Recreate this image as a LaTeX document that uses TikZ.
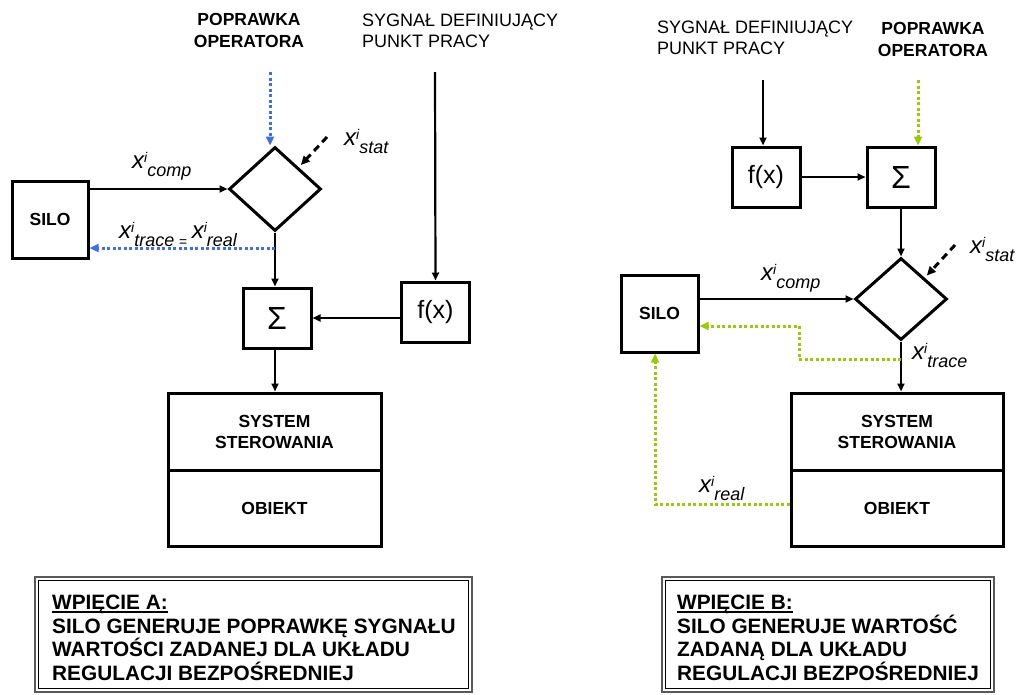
\documentclass[tikz,border=0pt]{standalone}
\usepackage{fontspec}
\setmainfont{Liberation Sans}
\usetikzlibrary{arrows.meta,shapes.geometric,calc}
\definecolor{dotblue}{RGB}{60,110,240}
\definecolor{dotgreen}{RGB}{153,204,0}
\newcommand{\xlab}[2]{{\fontsize{24}{24}\selectfont\itshape x}\raisebox{6pt}{\fontsize{14}{14}\selectfont\itshape #1}\raisebox{-8pt}{\fontsize{18}{18}\selectfont\itshape #2}}
\begin{document}
\begin{tikzpicture}[x=1pt,y=-1pt,
  blk/.style={draw, line width=3pt, inner sep=0pt, font=\fontsize{17.5}{21}\selectfont\bfseries, align=center},
  fbox/.style={blk, minimum width=68pt, minimum height=60pt, font=\fontsize{25}{25}\selectfont},
  sbox/.style={blk, minimum width=68pt, minimum height=60pt, font=\fontsize{32}{32}\selectfont},
  dia/.style={draw, line width=3pt, shape=diamond, inner sep=0pt, minimum width=92pt, minimum height=84pt},
  conn/.style={line width=2.2pt, -{Triangle[length=8pt,width=7pt]}},
  dotb/.style={line width=3pt, dotblue, dash pattern=on 3pt off 2.5pt, -{Triangle[length=9pt,width=8pt]}},
  dotg/.style={line width=3pt, dotgreen, dash pattern=on 3pt off 2.5pt, -{Triangle[length=9pt,width=8pt]}},
  dsh/.style={line width=3pt, dash pattern=on 7pt off 5pt, -{Triangle[length=9pt,width=8pt]}},
  lblb/.style={inner sep=0pt, font=\fontsize{17.5}{22}\selectfont\bfseries},
  lblr/.style={inner sep=0pt, font=\fontsize{18}{21}\selectfont},
  xl/.style={inner sep=0pt, anchor=base west},
  frame/.style={draw=black!65, line width=2.5pt, inner sep=0pt},
  note/.style={inner sep=0pt, anchor=base west, font=\fontsize{20.8}{20.8}\selectfont\bfseries}
]
\useasboundingbox (0,0) rectangle (1020,694);

% ---------------- LEFT (A) ----------------
\node[lblb, anchor=north, align=center] (popAlbl) at (249,13.5) {POPRAWKA\\OPERATORA};
\node[lblr, anchor=north west, align=left] (sygAlbl) at (362,13.3) {SYGNAŁ DEFINIUJĄCY\\PUNKT PRACY};

\node[blk, minimum width=76pt, minimum height=77pt] (silA) at (50,219.5) {SILO};
\node[dia] (diaA) at (275,189) {};
\node[sbox] (sumA) at (277,318) {Σ};
\node[fbox] (fA) at (435.5,312) {f(x)};
\node[blk, minimum width=213pt, minimum height=77pt] (sysA) at (274.5,431.5) {SYSTEM\\STEROWANIA};
\node[blk, minimum width=213pt, minimum height=76pt] (objA) at (274.5,508) {OBIEKT};

\coordinate (popA) at (270,72);
\coordinate (sygA) at (435,72);
\coordinate (statA) at (327,137);
\coordinate (tapA) at (275,248);

\draw[dotb] (popA) -- (popA |- diaA.north);
\draw[dsh, shorten >=3pt] (statA) -- (diaA.north east);
\draw[conn] (silA.east |- diaA.west) -- (diaA.west);
\draw[conn] (diaA.south) -- (diaA.south |- sumA.north);
\draw[dotb] (tapA) -- (silA.east |- tapA);
\draw[conn] (sygA) -- (fA.north);
\draw[conn] (fA.west |- sumA.east) -- (sumA.east);
\draw[conn] (sumA.south -| diaA.south) -- (diaA.south |- sysA.north);

\node[xl] (compA) at (132,168) {\xlab{i}{comp}};
\node[xl] (statAl) at (344,145) {\xlab{i}{stat}};
\node[xl] (traceA) at (119,238) {\xlab{i}{trace}\raisebox{-8pt}{\fontsize{14}{14}\selectfont\itshape\,\,=\,\,}\xlab{i}{real}};

% ---------------- RIGHT (B) ----------------
\node[lblr, anchor=north west, align=left] (sygBlbl) at (657,21) {SYGNAŁ DEFINIUJĄCY\\PUNKT PRACY};
\node[lblb, anchor=north, align=center] (popBlbl) at (933,22.5) {POPRAWKA\\OPERATORA};

\node[fbox] (fB) at (766,177) {f(x)};
\node[sbox] (sumB) at (901,177) {Σ};
\node[dia, minimum height=82pt] (diaB) at (901,299) {};
\node[blk, minimum width=77pt, minimum height=77pt] (silB) at (659.5,313.5) {SILO};
\node[blk, minimum width=212pt, minimum height=77pt] (sysB) at (897,431.5) {SYSTEM\\STEROWANIA};
\node[blk, minimum width=212pt, minimum height=76pt] (objB) at (897,508) {OBIEKT};

\coordinate (sygB) at (763,80);
\coordinate (popB) at (918,80);
\coordinate (statB) at (955,245);
\coordinate (tapB) at (901,359);
\coordinate (bendB) at (799,326);
\coordinate (realB) at (655,504);

\draw[conn] (sygB) -- (sygB |- fB.north);
\draw[dotg] (popB) -- (popB |- sumB.north);
\draw[conn] (fB.east) -- (sumB.west);
\draw[conn] (sumB.south) -- (diaB.north);
\draw[dsh, shorten >=3pt] (statB) -- (diaB.north east);
\draw[conn] (silB.east |- diaB.west) -- (diaB.west);
\draw[conn] (diaB.south) -- (diaB.south |- sysB.north);
\draw[dotg] (tapB) -| (bendB) -- (silB.east |- bendB);
\draw[dotg] (objB.west |- realB) -- (realB) -- (realB |- silB.south);

\node[xl] (statBl) at (970,253) {\xlab{i}{stat}};
\node[xl] (compB) at (761,280) {\xlab{i}{comp}};
\node[xl] (traceB) at (912,359) {\xlab{i}{trace}};
\node[xl] (realBl) at (699,492) {\xlab{i}{real}};

% ---------------- NOTE BOXES ----------------
\node[frame, minimum width=437pt, minimum height=115pt] (boxA) at (253.5,634.5) {};
\draw[line width=1pt] ([shift={(4.5,4.5)}]boxA.north west) rectangle ([shift={(-4.5,-4.5)}]boxA.south east);
\node[note] (aL1) at (52,609.5) {WPIĘCIE A:};
\draw[line width=1.6pt] ([yshift=-2.5pt]aL1.base west) -- ([yshift=-2.5pt]aL1.base east);
\node[note] (aL2) at (52,633) {SILO GENERUJE POPRAWKĘ SYGNAŁU};
\node[note] (aL3) at (52,656.5) {WARTOŚCI ZADANEJ DLA UKŁADU};
\node[note] (aL4) at (52,680) {REGULACJI BEZPOŚREDNIEJ};

\node[frame, minimum width=332pt, minimum height=115pt] (boxB) at (828,634.5) {};
\draw[line width=1pt] ([shift={(4.5,4.5)}]boxB.north west) rectangle ([shift={(-4.5,-4.5)}]boxB.south east);
\node[note] (bL1) at (677,609.5) {WPIĘCIE B:};
\draw[line width=1.6pt] ([yshift=-2.5pt]bL1.base west) -- ([yshift=-2.5pt]bL1.base east);
\node[note] (bL2) at (677,633) {SILO GENERUJE WARTOŚĆ};
\node[note] (bL3) at (677,656.5) {ZADANĄ DLA UKŁADU};
\node[note] (bL4) at (677,680) {REGULACJI BEZPOŚREDNIEJ};
\end{tikzpicture}
\end{document}
